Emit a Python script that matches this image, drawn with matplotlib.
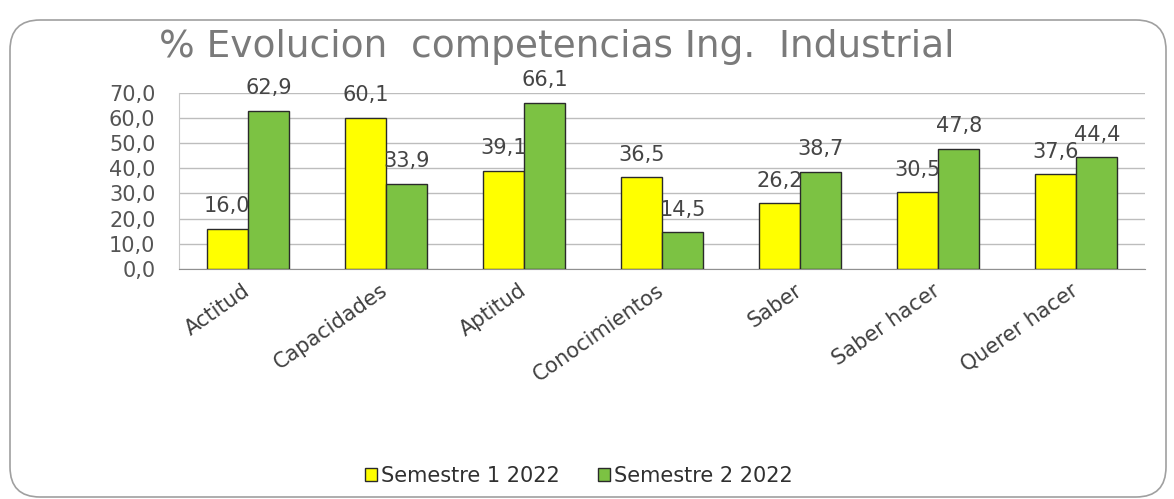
import matplotlib
matplotlib.use("Agg")
import matplotlib.pyplot as plt
import numpy as np
from matplotlib.patches import FancyBboxPatch

categories = ["Actitud", "Capacidades", "Aptitud", "Conocimientos",
              "Saber", "Saber hacer", "Querer hacer"]
sem1 = [16.0, 60.1, 39.1, 36.5, 26.2, 30.5, 37.6]
sem2 = [62.9, 33.9, 66.1, 14.5, 38.7, 47.8, 44.4]
series_names = ["Semestre 1 2022", "Semestre 2 2022"]
yticks = [0, 10, 20, 30, 40, 50, 60, 70]

plt.rcParams['font.family'] = ['DejaVu Sans']

fig = plt.figure(figsize=(11.74, 4.99), dpi=100)

# rounded frame around the chart, in inches so the corners stay round
frame = FancyBboxPatch((0.10, 0.02), 11.56, 4.77,
                       boxstyle="round,pad=0,rounding_size=0.3",
                       transform=fig.dpi_scale_trans, fill=False,
                       edgecolor="#a0a0a0", linewidth=1.2)
fig.patches.append(frame)

fig.text(0.474, 0.906, "% Evolucion  competencias Ing.  Industrial",
         ha="center", va="center", fontsize=27, color="#7a7a7a")

ax = fig.add_axes([0.1525, 0.461, 0.8228, 0.353])

x = np.arange(len(categories))
w = 0.3
b1 = ax.bar(x - w / 2, sem1, w, color="#ffff00", edgecolor="#2a2a2a",
            linewidth=1, label=series_names[0], zorder=3)
b2 = ax.bar(x + w / 2, sem2, w, color="#7cc243", edgecolor="#2a2a2a",
            linewidth=1, label=series_names[1], zorder=3)

for bars, vals in ((b1, sem1), (b2, sem2)):
    for rect, v in zip(bars, vals):
        ax.annotate(f"{v:.1f}".replace(".", ","),
                    (rect.get_x() + rect.get_width() / 2, v),
                    xytext=(0, 9), textcoords="offset points",
                    ha="center", va="bottom", fontsize=15, color="#454545")

ax.set_xlim(-0.5, len(categories) - 0.5)
ax.set_ylim(0, 70)
ax.set_yticks(yticks)
ax.set_yticklabels([f"{t:.1f}".replace(".", ",") for t in yticks],
                   fontsize=15, color="#555555")
ax.set_xticks(x)
ax.set_xticklabels(categories, rotation=35, ha="right", va="center",
                   rotation_mode="anchor", fontsize=15, color="#404040")
ax.tick_params(axis="both", length=0)
ax.tick_params(axis="x", pad=14)
ax.tick_params(axis="y", pad=17)

ax.grid(axis="y", color="#bdbdbd", linewidth=1, zorder=0)
for s in ("top", "right"):
    ax.spines[s].set_visible(False)
ax.spines["left"].set_color("#c8c8c8")
ax.spines["bottom"].set_color("#909090")

fig.legend(handles=[b1, b2], labels=series_names, loc="center",
           bbox_to_anchor=(0.493, 0.046), ncol=2, frameon=False,
           fontsize=15, handlelength=0.6, handleheight=0.6,
           handletextpad=0.2, columnspacing=1.8, labelcolor="#303030")

fig.savefig("out.png", dpi=100)
